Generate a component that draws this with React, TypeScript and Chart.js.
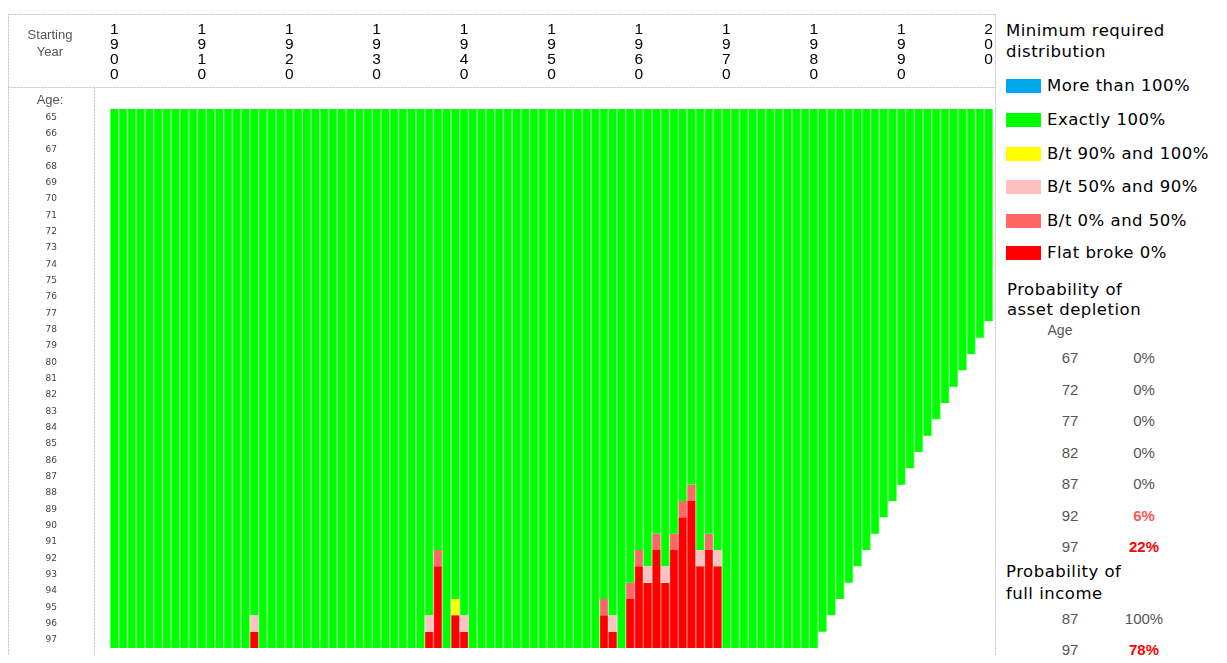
import React, { useEffect, useRef } from 'react';
import { Chart, registerables } from 'chart.js';

Chart.register(...registerables);

// ---------- data ----------
const years = [
  1900, 1901, 1902, 1903, 1904, 1905, 1906, 1907, 1908, 1909,
  1910, 1911, 1912, 1913, 1914, 1915, 1916, 1917, 1918, 1919,
  1920, 1921, 1922, 1923, 1924, 1925, 1926, 1927, 1928, 1929,
  1930, 1931, 1932, 1933, 1934, 1935, 1936, 1937, 1938, 1939,
  1940, 1941, 1942, 1943, 1944, 1945, 1946, 1947, 1948, 1949,
  1950, 1951, 1952, 1953, 1954, 1955, 1956, 1957, 1958, 1959,
  1960, 1961, 1962, 1963, 1964, 1965, 1966, 1967, 1968, 1969,
  1970, 1971, 1972, 1973, 1974, 1975, 1976, 1977, 1978, 1979,
  1980, 1981, 1982, 1983, 1984, 1985, 1986, 1987, 1988, 1989,
  1990, 1991, 1992, 1993, 1994, 1995, 1996, 1997, 1998, 1999,
  2000,
];

const ages = [
  65, 66, 67, 68, 69, 70, 71, 72, 73, 74, 75, 76, 77, 78, 79, 80, 81,
  82, 83, 84, 85, 86, 87, 88, 89, 90, 91, 92, 93, 94, 95, 96, 97,
];

// last age with data, per starting year
const lastAge = [
  97, 97, 97, 97, 97, 97, 97, 97, 97, 97,
  97, 97, 97, 97, 97, 97, 97, 97, 97, 97,
  97, 97, 97, 97, 97, 97, 97, 97, 97, 97,
  97, 97, 97, 97, 97, 97, 97, 97, 97, 97,
  97, 97, 97, 97, 97, 97, 97, 97, 97, 97,
  97, 97, 97, 97, 97, 97, 97, 97, 97, 97,
  97, 97, 97, 97, 97, 97, 97, 97, 97, 97,
  97, 97, 97, 97, 97, 97, 97, 97, 97, 97,
  97, 96, 95, 94, 93, 92, 91, 90, 89, 88,
  87, 86, 85, 84, 83, 82, 81, 80, 79, 78,
  77,
];

// starting years that fall short of the full distribution
const failYears = [1916, 1936, 1937, 1939, 1940, 1956, 1957, 1959, 1960, 1961, 1962, 1963, 1964, 1965, 1966, 1967, 1968, 1969];
// first age below 100%
const failTopAge = [96, 96, 92, 95, 96, 95, 96, 94, 92, 93, 91, 93, 91, 89, 88, 92, 91, 92];
// category of that first short age (the ages after it are flat broke)
const failTopKind = ['b50', 'b50', 'b0', 'b90', 'b50', 'b0', 'b50', 'b0', 'b0', 'b50', 'b0', 'b50', 'b0', 'b0', 'b0', 'b50', 'b0', 'b50'];

const tickYears = [1900, 1910, 1920, 1930, 1940, 1950, 1960, 1970, 1980, 1990, 2000];
const tickTexts = ['1900', '1910', '1920', '1930', '1940', '1950', '1960', '1970', '1980', '1990', '200'];

const legendKeys = ['more', 'exact', 'b90', 'b50', 'b0', 'broke'];
const legendLabels = ['More than 100%', 'Exactly 100%', 'B/t 90% and 100%', 'B/t 50% and 90%', 'B/t 0% and 50%', 'Flat broke 0%'];

const depletionAges = [67, 72, 77, 82, 87, 92, 97];
const depletionPct = [0, 0, 0, 0, 0, 6, 22];
const fullIncomeAges = [87, 97];
const fullIncomePct = [100, 78];

// ---------- styles ----------
const COLORS: Record<string, string> = {
  more: '#00a8f0',
  exact: '#00ff00',
  b90: '#ffff00',
  b50: '#ffc0c0',
  b0: '#ff6666',
  broke: '#ff0000',
};
const STRIPES: Record<string, string> = {
  more: '#80d4f8',
  exact: '#8cff8c',
  b90: '#ffff99',
  b50: '#ffe0e0',
  b0: '#ffa0a0',
  broke: '#ff7070',
};

function rangesFor(kind: string): ([number, number] | null)[] {
  return years.map((y, i) => {
    const fi = failYears.indexOf(y);
    const top = fi >= 0 ? failTopAge[fi] : null;
    if (kind === 'exact') {
      const end = top !== null ? top - 1 : lastAge[i];
      return [ages[0] - 0.5, end + 0.5];
    }
    if (kind === 'broke') {
      return top !== null ? [top + 0.5, lastAge[i] + 0.5] : null;
    }
    if (top !== null && failTopKind[fi] === kind) return [top - 0.5, top + 0.5];
    return null;
  });
}

const framePlugin = {
  id: 'frame',
  afterDraw(chart: any) {
    const ctx = chart.ctx as CanvasRenderingContext2D;
    ctx.save();
    ctx.strokeStyle = '#c2c2c2';
    ctx.lineWidth = 1;
    ctx.setLineDash([2, 1]);
    ctx.strokeRect(0.5, 0.5, 987, 644);
    ctx.beginPath();
    ctx.moveTo(0.5, 73.5);
    ctx.lineTo(987.5, 73.5);
    ctx.moveTo(86.5, 73.5);
    ctx.lineTo(86.5, 644.5);
    ctx.stroke();
    ctx.setLineDash([]);
    ctx.fillStyle = '#555';
    ctx.textAlign = 'center';
    ctx.textBaseline = 'middle';
    ctx.font = '13px "Liberation Sans", Arial, sans-serif';
    ctx.fillText('Starting', 42, 21);
    ctx.fillText('Year', 42, 38);
    ctx.fillText('Age:', 42, 86);
    ctx.restore();
  },
};

function ChartCanvas() {
  const ref = useRef<HTMLCanvasElement | null>(null);
  useEffect(() => {
    if (!ref.current) return;
    const kinds = ['exact', 'b90', 'b50', 'b0', 'broke'];
    const chart = new Chart(ref.current, {
      type: 'bar',
      data: {
        labels: years.map(String),
        datasets: kinds.map((k) => ({
          label: legendLabels[legendKeys.indexOf(k)],
          data: rangesFor(k) as any,
          backgroundColor: COLORS[k],
          borderColor: STRIPES[k],
          borderWidth: { left: 1, right: 1, top: 0, bottom: 0 },
          borderSkipped: false,
          grouped: false,
          barPercentage: 1,
          categoryPercentage: 1,
        })),
      },
      options: {
        animation: false,
        responsive: false,
        events: [],
        layout: { padding: { left: 0, right: 5, top: 0, bottom: 12 } },
        plugins: { legend: { display: false }, tooltip: { enabled: false } },
        scales: {
          x: {
            position: 'top',
            grid: { display: false, drawTicks: false },
            border: { display: false },
            ticks: {
              autoSkip: false,
              maxRotation: 0,
              minRotation: 0,
              padding: 27,
              color: '#000',
              font: { family: '"Liberation Sans", Arial, sans-serif', size: 15.5, lineHeight: 0.97 },
              callback: (_v: any, index: number) => {
                const ti = tickYears.indexOf(years[index]);
                if (ti < 0) return '';
                const chars = tickTexts[ti].split('');
                while (chars.length < 4) chars.push('');
                return chars;
              },
            },
            afterFit: (s: any) => {
              s.height = 95;
              s.paddingLeft = 0;
              s.paddingRight = 0;
            },
          },
          y: {
            type: 'linear',
            reverse: true,
            min: 64.5,
            max: 97.5,
            grid: { display: false, drawTicks: false },
            border: { display: false },
            ticks: {
              padding: 53,
              color: '#444',
              font: { family: '"DejaVu Sans", Verdana, sans-serif', size: 9 },
              callback: (v: any) => String(v),
            },
            afterBuildTicks: (s: any) => {
              s.ticks = ages.map((a) => ({ value: a }));
            },
            afterFit: (s: any) => {
              s.width = 102;
              s.paddingTop = 0;
              s.paddingBottom = 0;
            },
          },
        },
      } as any,
      plugins: [framePlugin],
    });
    return () => chart.destroy();
  }, []);
  return <canvas ref={ref} width={990} height={646} style={{ display: 'block' }} />;
}

const legendFont = '"DejaVu Sans", Verdana, sans-serif';
const tableFont = '"Liberation Sans Narrow", "Liberation Sans", Arial, sans-serif';

function Txt(props: { x: number; cy: number; lh?: number; style?: React.CSSProperties; children: React.ReactNode; center?: boolean }) {
  const lh = props.lh ?? 20;
  const base: React.CSSProperties = {
    position: 'absolute',
    top: props.cy - lh / 2,
    lineHeight: `${lh}px`,
    whiteSpace: 'nowrap',
  };
  if (props.center) {
    base.left = props.x - 40;
    base.width = 80;
    base.textAlign = 'center';
  } else {
    base.left = props.x;
  }
  return <div style={{ ...base, ...props.style }}>{props.children}</div>;
}

function pctStyle(p: number): React.CSSProperties {
  if (p === 0 || p === 100) return { color: '#555' };
  if (p < 10) return { color: '#ff5555', fontWeight: 'bold' };
  return { color: '#ff0000', fontWeight: 'bold' };
}

export default function App() {
  // container at page (8, 8); right panel coordinates are page - 8
  const headStyle: React.CSSProperties = { fontFamily: legendFont, fontSize: 16.5, color: '#000', letterSpacing: 0.5 };
  const tblStyle: React.CSSProperties = { fontFamily: tableFont, fontSize: 15, color: '#555' };
  const legendCy = [78, 112, 146, 179, 213, 245];
  const depCy = [350, 382, 413, 445, 476, 508, 539];
  const fullCy = [611, 642];
  return (
    <div style={{ position: 'relative', width: 1211, height: 647, background: '#fff' }}>
      <div style={{ position: 'absolute', left: 0, top: 6 }}>
        <ChartCanvas />
      </div>
      <Txt x={998} cy={22} lh={21} style={headStyle}>Minimum required</Txt>
      <Txt x={998} cy={43} lh={21} style={headStyle}>distribution</Txt>
      {legendKeys.map((k, i) => (
        <React.Fragment key={k}>
          <div
            style={{
              position: 'absolute',
              left: 998,
              top: legendCy[i] - 7,
              width: 35,
              height: 14,
              background: COLORS[k],
            }}
          />
          <Txt x={1039} cy={legendCy[i]} style={headStyle}>{legendLabels[i]}</Txt>
        </React.Fragment>
      ))}
      <Txt x={999} cy={281} lh={21} style={headStyle}>Probability of</Txt>
      <Txt x={999} cy={301} lh={21} style={headStyle}>asset depletion</Txt>
      <Txt x={1052} cy={322} center style={{ ...tblStyle, fontSize: 14 }}>Age</Txt>
      {depletionAges.map((a, i) => (
        <React.Fragment key={'d' + a}>
          <Txt x={1062} cy={depCy[i]} center style={tblStyle}>{a}</Txt>
          <Txt x={1136} cy={depCy[i]} center style={{ ...tblStyle, ...pctStyle(depletionPct[i]) }}>{depletionPct[i] + '%'}</Txt>
        </React.Fragment>
      ))}
      <Txt x={998} cy={563} lh={21} style={headStyle}>Probability of</Txt>
      <Txt x={998} cy={585} lh={21} style={headStyle}>full income</Txt>
      {fullIncomeAges.map((a, i) => (
        <React.Fragment key={'f' + a}>
          <Txt x={1062} cy={fullCy[i]} center style={tblStyle}>{a}</Txt>
          <Txt x={1136} cy={fullCy[i]} center style={{ ...tblStyle, ...pctStyle(fullIncomePct[i]) }}>{fullIncomePct[i] + '%'}</Txt>
        </React.Fragment>
      ))}
    </div>
  );
}
